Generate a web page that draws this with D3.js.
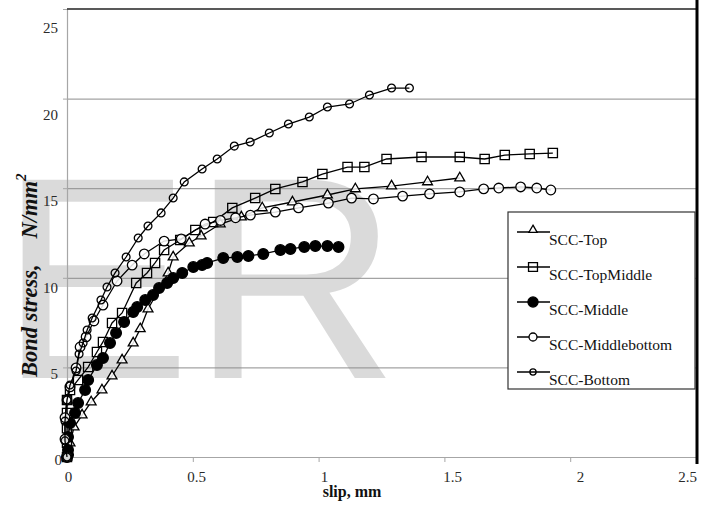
<!DOCTYPE html>
<html><head><meta charset="utf-8">
<script src="https://cdn.jsdelivr.net/npm/d3@7/dist/d3.min.js"></script>
<style>
html,body{margin:0;padding:0;background:#fff;}
svg{display:block;}
text{font-family:"Liberation Serif","Times New Roman",serif;}
text.wm{font-family:"Liberation Sans",Arial,sans-serif;}
</style></head>
<body>
<svg id="chart" width="709" height="513"></svg>
<script>
// ---------- data ----------
const seriesNames = ["SCC-Top","SCC-TopMiddle","SCC-Middle","SCC-Middlebottom","SCC-Bottom"];
const xTicks = [0,0.5,1,1.5,2,2.5];
const yTicks = [0,5,10,15,20,25];

const topX = [0,0.004,0.012,0.028,0.060,0.096,0.139,0.179,0.219,0.263,0.291,0.322,0.402,0.422,0.486,0.533,0.609,0.693,0.776,0.896,1.035,1.146,1.290,1.433,1.561];
const topY = [0,0.3,0.78,1.67,2.34,3.07,3.74,4.52,5.41,6.36,7.15,8.26,10.27,11.16,11.94,12.33,13.00,13.39,13.90,14.23,14.62,14.96,15.12,15.35,15.57];

const topMidX = [0,0,0,0,0,0.012,0.044,0.084,0.119,0.143,0.179,0.219,0.275,0.318,0.350,0.386,0.450,0.510,0.581,0.657,0.748,0.828,0.936,1.015,1.115,1.182,1.270,1.409,1.561,1.660,1.740,1.839,1.931];
const topMidY = [0,0.8,1.6,2.46,3.18,3.74,4.30,5.02,5.86,6.42,7.48,8.04,9.71,10.27,10.83,11.55,12.11,12.67,13.11,13.90,14.45,14.96,15.35,15.79,16.18,16.18,16.63,16.74,16.74,16.63,16.85,16.91,16.96];

const midX = [0,0.004,0.004,0.004,0.012,0.032,0.044,0.072,0.084,0.119,0.143,0.171,0.195,0.227,0.263,0.279,0.311,0.342,0.366,0.398,0.422,0.458,0.502,0.537,0.557,0.621,0.677,0.721,0.780,0.848,0.888,0.943,0.987,1.035,1.079];
const midY = [0,0.11,0.39,1.12,1.90,2.46,3.01,3.74,4.30,5.13,5.52,6.36,6.92,7.53,8.09,8.37,8.76,9.04,9.43,9.71,9.99,10.27,10.60,10.71,10.83,11.10,11.16,11.22,11.33,11.55,11.61,11.72,11.77,11.77,11.72];

const midBotX = [0,-0.008,-0.008,0,0.012,0.036,0.052,0.076,0.107,0.143,0.199,0.259,0.307,0.386,0.454,0.549,0.610,0.670,0.729,0.828,0.920,1.039,1.131,1.218,1.334,1.441,1.561,1.656,1.716,1.803,1.867,1.923];
const midBotY = [0,1.0,2.2,3.18,3.91,4.97,6.14,6.70,7.59,8.48,9.82,10.71,11.33,12.05,12.17,13.00,13.20,13.35,13.50,13.67,13.90,14.17,14.45,14.40,14.56,14.68,14.79,14.96,15.01,15.07,15.01,14.90];

const botX = [0,-0.008,-0.008,0,0.012,0.036,0.048,0.064,0.080,0.100,0.135,0.159,0.191,0.235,0.283,0.322,0.374,0.422,0.466,0.537,0.597,0.665,0.728,0.804,0.880,0.963,1.035,1.123,1.202,1.290,1.361];
const botY = [0,0.9,2.0,3.18,4.02,4.80,5.75,6.36,7.09,7.76,8.76,9.49,10.27,11.16,12.22,12.89,13.62,14.45,15.35,16.07,16.63,17.35,17.58,18.08,18.58,18.97,19.53,19.70,20.20,20.59,20.59];

// ---------- layout ----------
const svg = d3.select("#chart");
const x = d3.scaleLinear().domain([0,2.5]).range([67,696]);
const y = d3.scaleLinear().domain([0,25]).range([457,9]);
// tick labels in the reference sit slightly off the grid
const xLab = d3.scaleLinear().domain([0,2]).range([68,580]);
const yLab = d3.scaleLinear().domain([0,25]).range([460,28]);

const gridCol = "#a6a6a6";

// watermark (behind the plot marks, drawn semi-transparent)
const wm = svg.append("text").attr("class","wm").attr("x",-1).attr("y",378)
  .attr("font-size",288).attr("fill","#000").attr("fill-opacity",0.145).text("ER");

// gridlines
svg.append("g").attr("transform","translate(67,0)")
  .call(d3.axisLeft(y).tickValues([5,10,15,20]).tickSize(-(696-67)).tickFormat(""))
  .call(g=>g.select(".domain").remove())
  .call(g=>g.selectAll("line").attr("stroke","#8c8c8c").attr("stroke-opacity",0.8).attr("stroke-width",1.2));

// y axis line + small ticks
svg.append("g").attr("transform","translate(67,0)")
  .call(d3.axisLeft(y).tickValues(yTicks).tickSize(4).tickSizeOuter(0).tickFormat(""))
  .call(g=>g.select(".domain").attr("stroke",gridCol).attr("stroke-width",1.2))
  .call(g=>g.selectAll("line").attr("stroke",gridCol));

// x axis line + ticks
svg.append("g").attr("transform","translate(0,457)")
  .call(d3.axisBottom(x).tickValues(xTicks).tickSize(5).tickSizeOuter(0).tickFormat(""))
  .call(g=>g.select(".domain").attr("stroke",gridCol).attr("stroke-width",1.2))
  .call(g=>g.selectAll("line").attr("stroke",gridCol));

// y tick labels
svg.append("g").attr("transform","translate(62,0)")
  .call(d3.axisLeft(yLab).tickValues(yTicks).tickSize(0).tickPadding(0).tickFormat(d3.format("d")))
  .call(g=>g.select(".domain").remove())
  .call(g=>g.selectAll("text").attr("font-size",15).attr("fill","#2a2a2a")
      .attr("dy","0.32em").attr("dx",d=>d===0?0:-4));

// x tick labels
const xg = svg.append("g").attr("transform","translate(0,471)")
  .call(d3.axisBottom(xLab).tickValues(xTicks).tickSize(0).tickPadding(0).tickFormat(d=>String(d)))
  .call(g=>g.select(".domain").remove());
xg.selectAll("text").attr("font-size",15).attr("fill","#2a2a2a").attr("dy","0.71em");
xg.selectAll(".tick").filter(d=>d===2.5)
  .attr("transform",`translate(${x(2.5)+1},0)`).select("text").attr("text-anchor","end");

// frame: top and right
svg.append("line").attr("x1",67).attr("x2",697).attr("y1",y(25)).attr("y2",y(25))
  .attr("stroke","#222").attr("stroke-width",1.5);
svg.append("line").attr("x1",697).attr("x2",697).attr("y1",0).attr("y2",464)
  .attr("stroke","#000").attr("stroke-width",3);

// ---------- series ----------
const line = d3.line().x(d=>x(d[0])).y(d=>y(d[1]));
const sym = {
  tri: d3.symbol().type(d3.symbolTriangle).size(42),
  sq: d3.symbol().type(d3.symbolSquare).size(85),
  fc: d3.symbol().type(d3.symbolCircle).size(90),
  oc: d3.symbol().type(d3.symbolCircle).size(72),
  sc: d3.symbol().type(d3.symbolCircle).size(48)
};
const series = [
  {name:seriesNames[0], xs:topX, ys:topY, m:"tri", fill:"#fff"},
  {name:seriesNames[1], xs:topMidX, ys:topMidY, m:"sq", fill:"none"},
  {name:seriesNames[2], xs:midX, ys:midY, m:"fc", fill:"#000"},
  {name:seriesNames[3], xs:midBotX, ys:midBotY, m:"oc", fill:"#fff"},
  {name:seriesNames[4], xs:botX, ys:botY, m:"sc", fill:"none"}
];
const plot = svg.append("g");
series.forEach(s=>{
  const pts = s.xs.map((v,i)=>[v,s.ys[i]]);
  const g = plot.append("g");
  g.append("path").datum(pts).attr("d",line).attr("fill","none").attr("stroke","#000").attr("stroke-width",1.3);
  g.selectAll("path.mk").data(pts).join("path").attr("class","mk")
    .attr("transform",d=>`translate(${x(d[0])},${y(d[1])})`)
    .attr("d",sym[s.m]()).attr("fill",s.fill).attr("fill-opacity",s.fill==="#fff"?0.85:1)
    .attr("stroke","#000").attr("stroke-width",1.3);
});

// ---------- legend ----------
const leg = svg.append("g");
leg.append("rect").attr("x",508).attr("y",212).attr("width",187).attr("height",177)
  .attr("fill","#fff").attr("stroke","#333").attr("stroke-width",1.2);
const legSize = {tri:30, sq:80, fc:80, oc:50, sc:30};
series.forEach((s,i)=>{
  const ly = 232 + i*35;
  leg.append("line").attr("x1",517).attr("x2",550).attr("y1",ly).attr("y2",ly).attr("stroke","#000").attr("stroke-width",1.3);
  leg.append("path").attr("transform",`translate(533,${ly - (s.m==="tri"?2:0)})`)
    .attr("d",d3.symbol().type(s.m==="tri"?d3.symbolTriangle:s.m==="sq"?d3.symbolSquare:d3.symbolCircle).size(legSize[s.m])())
    .attr("fill",s.fill).attr("stroke","#000").attr("stroke-width",1.3);
  leg.append("text").attr("x",549).attr("y",ly+13).attr("font-size",15.5).attr("fill","#111").text(s.name);
});

// ---------- axis titles ----------
svg.append("text").attr("x",352).attr("y",497).attr("text-anchor","middle")
  .attr("font-size",16).attr("font-weight","bold").attr("fill","#111").text("slip, mm");
const yt = svg.append("text").attr("transform","translate(37,377) rotate(-90)")
  .attr("font-size",22.5).attr("font-weight","bold").attr("font-style","italic").attr("fill","#111");
yt.append("tspan").text("Bond stress,");
yt.append("tspan").attr("dx",26).text("N/mm");
yt.append("tspan").attr("dy",-11).attr("font-size",15).text("2");
</script>
</body></html>
